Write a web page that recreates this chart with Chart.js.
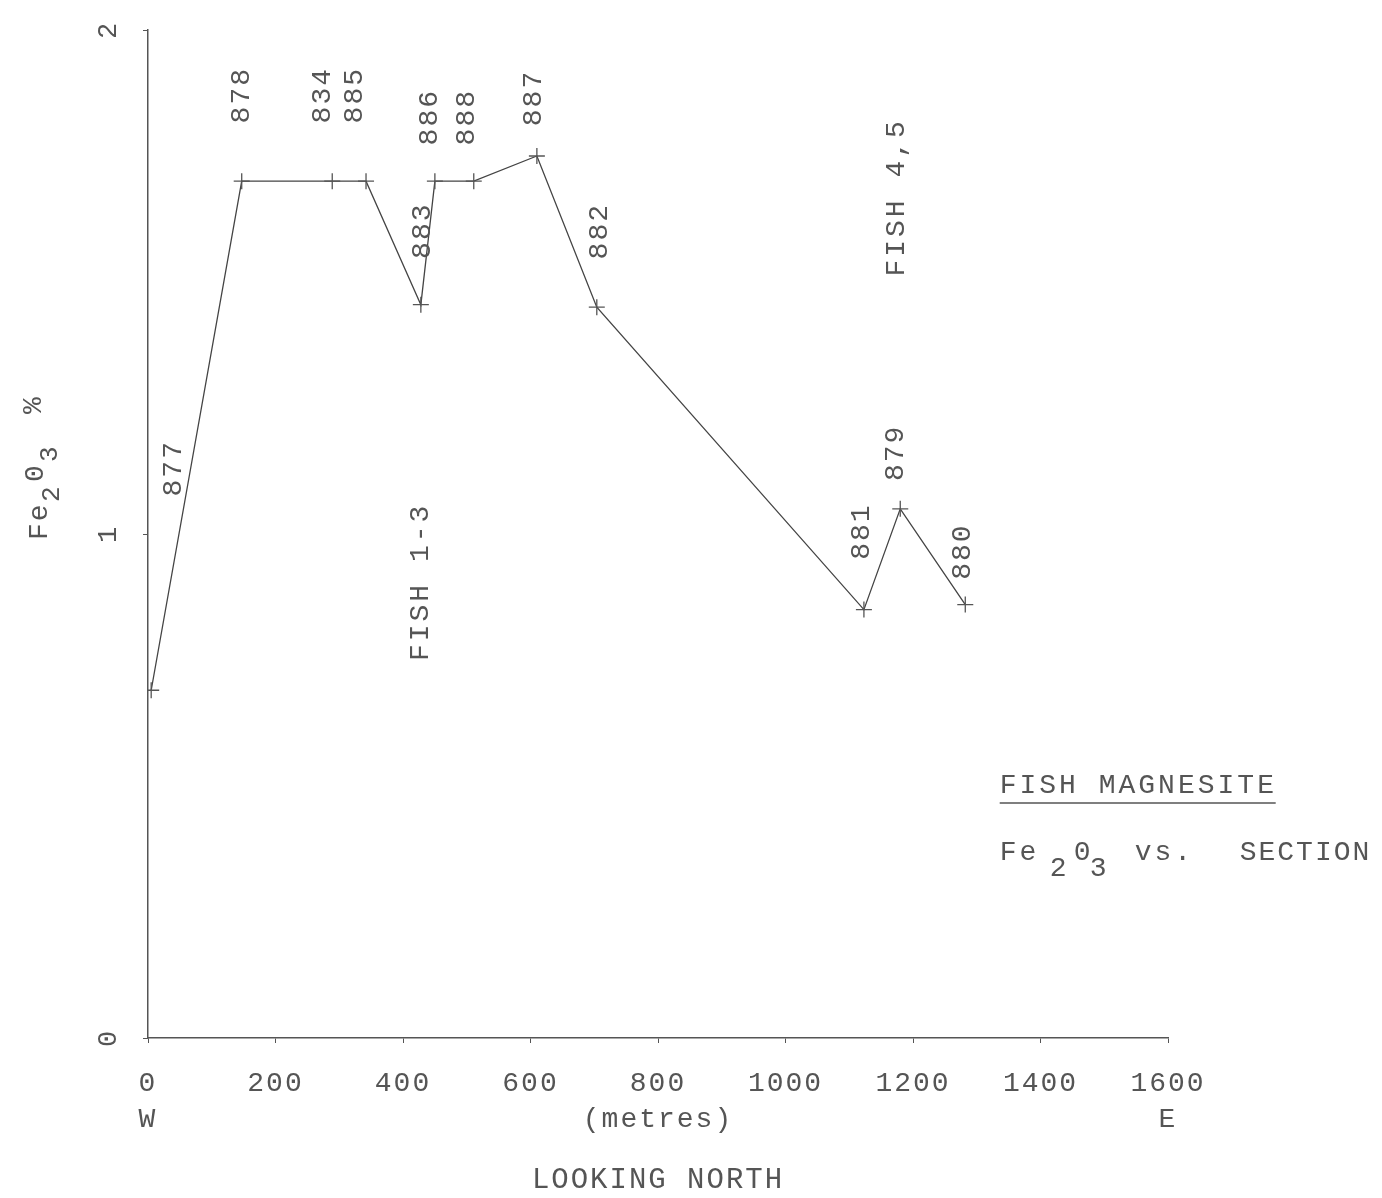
<!DOCTYPE html>
<html>
<head>
<meta charset="utf-8">
<script src="https://cdn.jsdelivr.net/npm/chart.js@4.4.1/dist/chart.umd.min.js"></script>
<style>
  body { margin: 0; background: #fff; }
</style>
</head>
<body>
<canvas id="graficoFish" width="1382" height="1198"></canvas>
<script>
// muestras a lo largo de la seccion (metros desde W) y su Fe2O3 %
const muestras = ['877', '878', '834', '885', '883', '886', '888', '887', '882', '881', '879', '880'];
const distancias = [5, 147, 289, 342, 428, 450, 511, 610, 704, 1123, 1180, 1282];
const fe2o3 = [0.69, 1.70, 1.70, 1.70, 1.455, 1.70, 1.70, 1.75, 1.45, 0.85, 1.05, 0.86];
const ticksX = [0, 200, 400, 600, 800, 1000, 1200, 1400, 1600];
const ticksY = [0, 1, 2];
const grupos = ['FISH 1-3', 'FISH 4,5'];
const gruposX = [427, 1175];
const gruposY = [0.905, 1.668];

const fuente = "'Liberation Mono', 'DejaVu Sans Mono', monospace";
const gris = '#555';

// desplazamiento de cada etiqueta respecto a su punto (px)
const desplaz = [[22, -222], [0, -86], [-10, -86], [-11, -86], [2, -74], [-5, -64], [-7, -64],
                 [-3, -58], [3, -76], [-2, -78], [-5, -56], [-3, -53]];

const espaciado = {
  id: 'espaciado',
  beforeDraw(chart) {
    chart.ctx.letterSpacing = '2px';
  }
};

const etiquetas = {
  id: 'etiquetas',
  afterDatasetsDraw(chart) {
    const ctx = chart.ctx;
    const meta = chart.getDatasetMeta(0);
    const sx = chart.scales.x;
    const sy = chart.scales.y;

    function vertical(texto, x, y) {
      ctx.save();
      ctx.translate(x, y);
      ctx.rotate(-Math.PI / 2);
      ctx.fillText(texto, 0, 0);
      ctx.restore();
    }

    ctx.save();
    ctx.fillStyle = gris;
    ctx.textAlign = 'center';
    ctx.textBaseline = 'middle';
    ctx.letterSpacing = '2px';
    ctx.font = '28px ' + fuente;
    meta.data.forEach(function (p, i) {
      vertical(muestras[i], p.x + desplaz[i][0], p.y + desplaz[i][1]);
    });
    ctx.letterSpacing = '3px';
    grupos.forEach(function (g, i) {
      vertical(g, sx.getPixelForValue(gruposX[i]), sy.getPixelForValue(gruposY[i]));
    });

    // titulo del eje Y: Fe2O3 %
    ctx.save();
    ctx.letterSpacing = '2px';
    ctx.translate(40, 540);
    ctx.rotate(-Math.PI / 2);
    ctx.textAlign = 'left';
    ctx.font = '28px ' + fuente;
    ctx.fillText('Fe', 0, 0);
    ctx.fillText('0', 58, -4);
    ctx.fillText('%', 126, -6);
    ctx.font = '26px ' + fuente;
    ctx.fillText('2', 38, 12);
    ctx.fillText('3', 78, 10);
    ctx.restore();

    // leyenda a la derecha
    const lx = sx.getPixelForValue(1336);
    const ly = sy.getPixelForValue(0.5);
    ctx.textAlign = 'left';
    ctx.letterSpacing = '3px';
    ctx.font = '28px ' + fuente;
    ctx.fillText('FISH MAGNESITE', lx, ly);
    ctx.strokeStyle = gris;
    ctx.lineWidth = 1.5;
    ctx.beginPath();
    ctx.moveTo(lx, ly + 17);
    ctx.lineTo(lx + 276, ly + 17);
    ctx.stroke();
    const ly2 = ly + 67;
    ctx.fillText('Fe', lx, ly2);
    ctx.fillText('0', lx + 74, ly2);
    ctx.fillText('vs.', lx + 135, ly2);
    ctx.letterSpacing = '2px';
    ctx.fillText('SECTION', lx + 240, ly2);
    ctx.fillText('2', lx + 50, ly2 + 16);
    ctx.fillText('3', lx + 90, ly2 + 16);
    ctx.restore();
  }
};

let graficoFish = new Chart(document.getElementById('graficoFish'), {
  type: 'line',
  data: {
    labels: muestras,
    datasets: [{
      data: distancias.map(function (d, i) { return { x: d, y: fe2o3[i] }; }),
      borderColor: '#444',
      borderWidth: 1.3,
      tension: 0,
      fill: false,
      pointStyle: 'cross',
      pointRadius: 8,
      pointBorderWidth: 1.3,
      pointBorderColor: '#555'
    }]
  },
  options: {
    responsive: false,
    animation: false,
    layout: { padding: { left: 0, top: 30, right: 214, bottom: 0 } },
    plugins: { legend: { display: false }, tooltip: { enabled: false } },
    scales: {
      x: {
        type: 'linear',
        min: 0,
        max: 1600,
        afterBuildTicks: function (s) { s.ticks = ticksX.map(function (v) { return { value: v }; }); },
        afterFit: function (s) { s.height = 160; s.paddingLeft = 0; s.paddingRight = 0; },
        border: { display: true, color: gris, width: 1.5 },
        grid: { display: true, drawOnChartArea: false, drawTicks: true, tickLength: 5, color: gris },
        ticks: {
          color: gris,
          font: { family: fuente, size: 28, lineHeight: 1.3 },
          padding: 22,
          maxRotation: 0,
          autoSkip: false,
          callback: function (v) {
            if (v === 0) return ['0', 'W'];
            if (v === 800) return ['800', '(metres)'];
            if (v === 1600) return ['1600', 'E'];
            return String(v);
          }
        },
        title: {
          display: true,
          text: 'LOOKING NORTH',
          color: gris,
          font: { family: fuente, size: 29, lineHeight: 1.2 },
          padding: { top: 0, bottom: 0 }
        }
      },
      y: {
        type: 'linear',
        min: 0,
        max: 2,
        afterBuildTicks: function (s) { s.ticks = ticksY.map(function (v) { return { value: v }; }); },
        afterFit: function (s) { s.width = 148; s.paddingTop = 0; s.paddingBottom = 0; },
        border: { display: true, color: gris, width: 1.5 },
        grid: { display: true, drawOnChartArea: false, drawTicks: true, tickLength: 5, color: gris },
        ticks: {
          color: gris,
          font: { family: fuente, size: 27 },
          padding: 26,
          minRotation: 90,
          maxRotation: 90,
          crossAlign: 'center'
        }
      }
    }
  },
  plugins: [espaciado, etiquetas]
});
</script>
</body>
</html>
